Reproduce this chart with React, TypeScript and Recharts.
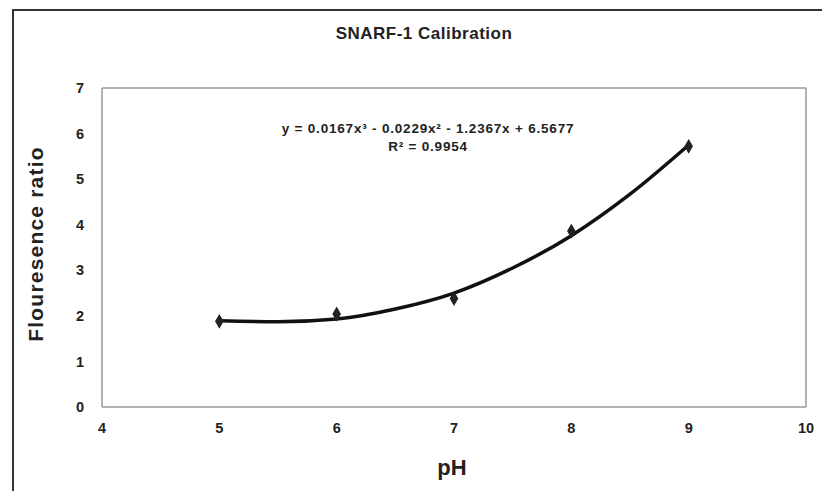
import React from 'react';
import { ComposedChart, Line, Scatter, XAxis, YAxis, ReferenceLine } from 'recharts';

// Mediciones de calibración (pH vs. razón de fluorescencia)
const phMedido = [5, 6, 7, 8, 9];
const razonMedida = [1.88, 2.04, 2.38, 3.86, 5.72];

// Línea de tendencia
const phTendencia = [5, 5.5, 6, 6.5, 7, 7.5, 8, 8.5, 9];
const razonTendencia = [1.89, 1.87, 1.93, 2.15, 2.5, 3.05, 3.76, 4.67, 5.75];

const ticksX = [4, 5, 6, 7, 8, 9, 10];
const ticksY = [0, 1, 2, 3, 4, 5, 6, 7];

const titulo = 'SNARF-1 Calibration';
const ecuacion = 'y = 0.0167x³ - 0.0229x² - 1.2367x + 6.5677';
const r2 = 'R² = 0.9954';

const puntos = phMedido.map((ph, i) => ({ ph, razon: razonMedida[i] }));
const tendencia = phTendencia.map((ph, i) => ({ ph, tendencia: razonTendencia[i] }));

const fuente = '"Liberation Sans", Arial, sans-serif';
const tickStyle = { fontSize: 14.5, fontWeight: 700, fill: '#222', fontFamily: fuente };
const borde = { stroke: '#999', strokeWidth: 1.5 };

const App: React.FC = () => (
  <div style={{ position: 'fixed', left: 0, top: 0, width: 822, height: 491, overflow: 'hidden', background: '#fff' }}>
    <div style={{ position: 'absolute', left: 12, top: 9, width: 840, height: 520, border: '2px solid #333', boxSizing: 'border-box' }} />
    <ComposedChart width={822} height={491} data={tendencia}
      margin={{ top: 88, right: 16, bottom: 0, left: 20 }}
      style={{ position: 'absolute', left: 0, top: 0 }}>
      <XAxis dataKey="ph" type="number" domain={[4, 10]} ticks={ticksX} height={84}
        axisLine={borde} tickLine={false} tickMargin={10} tick={tickStyle} />
      <YAxis type="number" domain={[0, 7]} ticks={ticksY} width={82}
        axisLine={borde} tickLine={false} tickMargin={12} tick={tickStyle} />
      <ReferenceLine y={7} {...borde} />
      <ReferenceLine x={10} {...borde} />
      <Line dataKey="tendencia" type="monotone" stroke="#111" strokeWidth={3.5} dot={false} isAnimationActive={false} />
      <Scatter data={puntos} dataKey="razon" fill="#222" shape="diamond" isAnimationActive={false} />
    </ComposedChart>
    <svg width={822} height={491} style={{ position: 'absolute', left: 0, top: 0, pointerEvents: 'none' }}
      fontFamily={fuente} fontWeight={700} fill="#222">
      <text x={424} y={39} textAnchor="middle" fontSize={17} letterSpacing={0.5}>{titulo}</text>
      <text x={428} y={133} textAnchor="middle" fontSize={13.5} letterSpacing={0.8}>{ecuacion}</text>
      <text x={428} y={151} textAnchor="middle" fontSize={13.5} letterSpacing={0.8}>{r2}</text>
      <text x={0} y={0} textAnchor="middle" fontSize={21} letterSpacing={1.2} transform="translate(43,244) rotate(-90)">Flouresence ratio</text>
      <text x={452} y={475} textAnchor="middle" fontSize={22}>pH</text>
    </svg>
  </div>
);

export default App;
